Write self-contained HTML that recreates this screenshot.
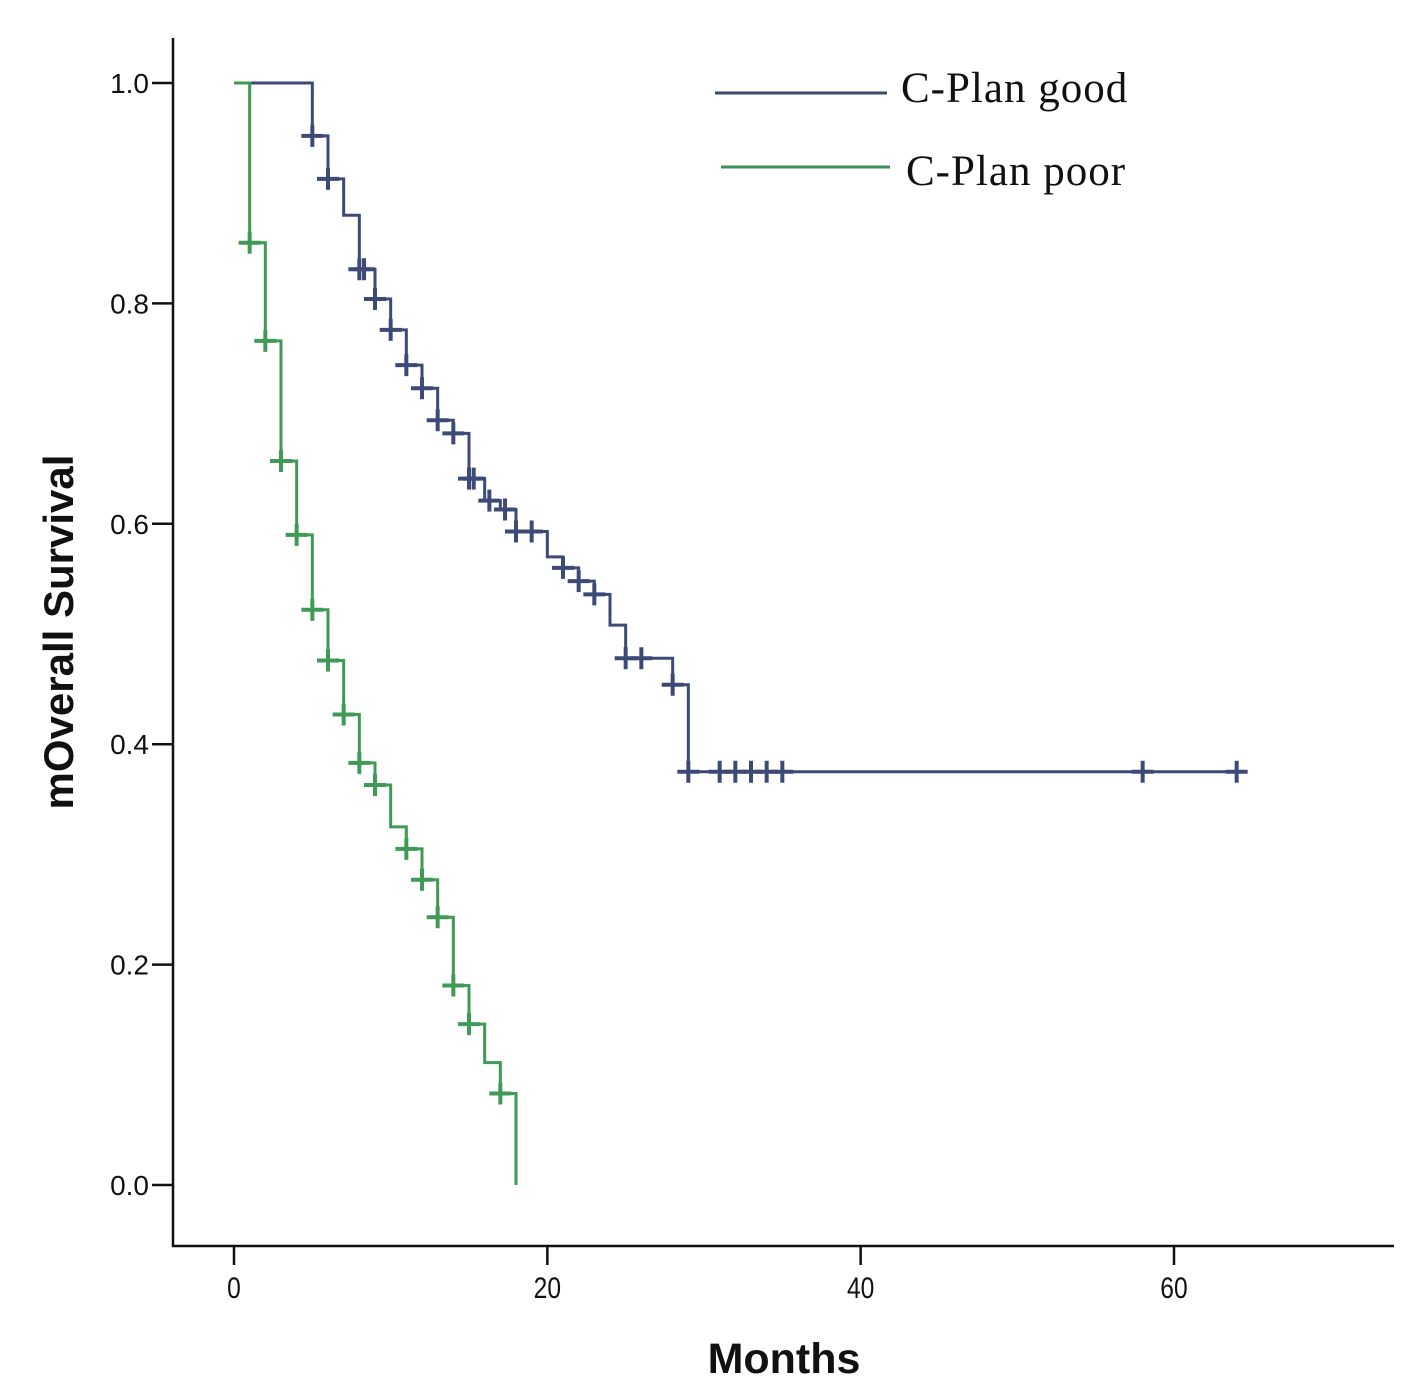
<!DOCTYPE html>
<html><head><meta charset="utf-8"><style>
html,body{margin:0;padding:0;background:#fff;}
svg{display:block;}
</style></head><body>
<svg id="chart" width="1423" height="1397" viewBox="0 0 1423 1397" xmlns="http://www.w3.org/2000/svg">
<g id="axes"></g>
<g id="series"></g>
<g>
  <line x1="715" y1="93" x2="887" y2="93" stroke="#3b4a6e" stroke-width="3"/>
  <text x="901" y="102" font-family="Liberation Serif, serif" font-size="43" letter-spacing="1" fill="#111">C-Plan good</text>
  <line x1="721" y1="167" x2="890" y2="167" stroke="#3f8f5a" stroke-width="3"/>
  <text x="906" y="185" font-family="Liberation Serif, serif" font-size="43" letter-spacing="1" fill="#111">C-Plan poor</text>
</g>
<text transform="translate(73,632) rotate(-90)" text-anchor="middle" font-family="Liberation Sans, sans-serif" font-weight="bold" font-size="42" fill="#111">mOverall Survival</text>
<text x="784" y="1373" text-anchor="middle" font-family="Liberation Sans, sans-serif" font-weight="bold" font-size="43" fill="#111">Months</text>
</svg>
<script>
const xTicks = [0, 20, 40, 60];
const yTicks = [0.0, 0.2, 0.4, 0.6, 0.8, 1.0];
const yTickLabels = ["0.0", "0.2", "0.4", "0.6", "0.8", "1.0"];
const goodTimes = [0, 5, 6, 7, 8, 9, 10, 11, 12, 13, 14, 15, 16, 17, 18, 20, 21, 22, 23, 24, 25, 28, 29];
const goodSurv = [1.0, 0.952, 0.913, 0.880, 0.831, 0.804, 0.776, 0.744, 0.723, 0.694, 0.682, 0.641, 0.621, 0.613, 0.593, 0.570, 0.560, 0.548, 0.536, 0.508, 0.478, 0.454, 0.375];
const goodEnd = 64.6;
const goodCensor = [5, 6, 8, 8.3, 9, 10, 11, 12, 13, 14, 15, 15.3, 16.3, 17.3, 18, 19, 21, 22, 23, 25, 26, 28, 29, 31, 32, 33, 34, 35, 58, 64];
const poorTimes = [0, 1, 2, 3, 4, 5, 6, 7, 8, 9, 10, 11, 12, 13, 14, 15, 16, 17, 18];
const poorSurv = [1.0, 0.855, 0.766, 0.657, 0.590, 0.522, 0.476, 0.427, 0.383, 0.363, 0.325, 0.305, 0.277, 0.243, 0.181, 0.146, 0.111, 0.083, 0.0];
const poorEnd = 18;
const poorCensor = [1, 2, 3, 4, 5, 6, 7, 8, 9, 11, 12, 13, 14, 15, 17];

const NS = "http://www.w3.org/2000/svg";
const xS = t => 234 + t * (1174 - 234) / 60;
const yS = s => 1185 - s * (1185 - 83);
function mk(tag, attrs, parent) {
  const e = document.createElementNS(NS, tag);
  for (const k in attrs) e.setAttribute(k, attrs[k]);
  parent.appendChild(e);
  return e;
}
const axes = document.getElementById('axes');
const ser = document.getElementById('series');
let e = mk('line', {x1:173, y1:38, x2:173, y2:1247, stroke:'#111', 'stroke-width':2.5}, axes);


e = mk('line', {x1:172, y1:1246, x2:1394, y2:1246, stroke:'#111', 'stroke-width':2.5}, axes);


yTicks.forEach((v, i) => {
  const y = yS(v);
  let t = mk('line', {x1:152, y1:y, x2:173, y2:y, stroke:'#111', 'stroke-width':2.5}, axes);
  
  
  let l = mk('text', {x:149, y:y + 10, 'text-anchor':'end', 'font-family':'Liberation Sans, sans-serif', 'font-size':28, fill:'#111'}, axes);
  l.textContent = yTickLabels[i];
  
  
});
xTicks.forEach(v => {
  const x = xS(v);
  let t = mk('line', {x1:x, y1:1246, x2:x, y2:1265, stroke:'#111', 'stroke-width':2.5}, axes);
  
  
  let l = mk('text', {x:x, y:1298, 'text-anchor':'middle', 'font-family':'Liberation Sans, sans-serif', 'font-size':30, fill:'#111', transform:`translate(${x},0) scale(0.82,1) translate(${-x},0)`}, axes);
  l.textContent = String(v);
  
  
});
function stepPath(times, surv, end) {
  let d = `M${xS(times[0])},${yS(surv[0])}`;
  for (let i = 1; i < times.length; i++) {
    d += ` H${xS(times[i])} V${yS(surv[i])}`;
  }
  d += ` H${xS(end)}`;
  return d;
}
function survAt(times, surv, t) {
  let s = surv[0];
  for (let i = 0; i < times.length; i++) if (times[i] <= t) s = surv[i];
  return s;
}
function drawSeries(times, surv, end, censor, color, name) {
  let p = mk('path', {d: stepPath(times, surv, end), fill:'none', stroke:color, 'stroke-width':3}, ser);
  
  
  censor.forEach(t => {
    const x = xS(t), y = yS(survAt(times, surv, t));
    let c = mk('path', {d:`M${x-11},${y} H${x+11} M${x},${y-11} V${y+11}`, stroke:color, 'stroke-width':4, fill:'none'}, ser);
    
    
  });
}
drawSeries(goodTimes, goodSurv, goodEnd, goodCensor, '#3d4a78', 'good');
drawSeries(poorTimes, poorSurv, poorEnd, poorCensor, '#3f9a55', 'poor');
</script>
</body></html>
